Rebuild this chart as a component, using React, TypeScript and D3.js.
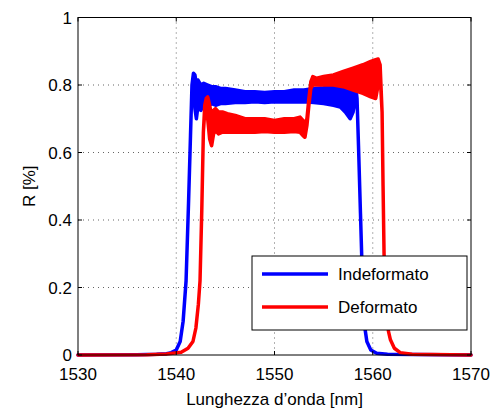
import React from 'react';
import * as d3 from 'd3';

const xTicks = [1530, 1540, 1550, 1560, 1570];
const yTicks = [0, 0.2, 0.4, 0.6, 0.8, 1];
const yTickLabels = ['0', '0.2', '0.4', '0.6', '0.8', '1'];
const seriesNames = ['Indeformato', 'Deformato'];
const seriesColors = ['#0000ff', '#ff0000'];

// Indeformato (blue): wavelength, upper and lower envelope of the oscillating reflectance
const blueLambda = [1530, 1536, 1538, 1539, 1539.5, 1540, 1540.4, 1540.7, 1541, 1541.25, 1541.45, 1541.6, 1541.75, 1541.9, 1542.05, 1542.2, 1542.5, 1542.8, 1543.2, 1543.6, 1544, 1544.5, 1545, 1546, 1547, 1548, 1549, 1550, 1551, 1552, 1553, 1554, 1555, 1556, 1556.7, 1557.2, 1557.7, 1558.0, 1558.25, 1558.4, 1558.55, 1558.75, 1558.9, 1559.0, 1559.15, 1559.4, 1559.8, 1560.4, 1561.5, 1570];
const blueUpper = [0, 0.001, 0.002, 0.004, 0.007, 0.015, 0.04, 0.1, 0.22, 0.45, 0.65, 0.8, 0.835, 0.83, 0.8, 0.815, 0.8, 0.805, 0.8, 0.795, 0.795, 0.79, 0.79, 0.785, 0.78, 0.78, 0.778, 0.78, 0.78, 0.785, 0.785, 0.79, 0.792, 0.8, 0.805, 0.81, 0.82, 0.835, 0.8, 0.76, 0.62, 0.42, 0.27, 0.18, 0.09, 0.04, 0.015, 0.005, 0.002, 0];
const blueLower = [0, 0.001, 0.002, 0.004, 0.007, 0.015, 0.04, 0.1, 0.22, 0.45, 0.65, 0.8, 0.8, 0.73, 0.7, 0.735, 0.725, 0.74, 0.735, 0.745, 0.74, 0.745, 0.745, 0.748, 0.748, 0.75, 0.748, 0.75, 0.75, 0.75, 0.75, 0.748, 0.745, 0.74, 0.735, 0.72, 0.7, 0.72, 0.76, 0.76, 0.62, 0.42, 0.27, 0.18, 0.09, 0.04, 0.015, 0.005, 0.002, 0];

// Deformato (red)
const redLambda = [1530, 1537, 1539, 1540.5, 1541.2, 1541.7, 1542.0, 1542.25, 1542.42, 1542.6, 1542.76, 1542.9, 1543.05, 1543.2, 1543.4, 1543.6, 1543.8, 1544.0, 1544.3, 1544.7, 1545.2, 1546, 1547, 1548, 1549, 1550, 1551, 1552, 1552.6, 1552.9, 1553.1, 1553.3, 1553.5, 1553.7, 1553.9, 1554.3, 1555, 1556, 1557, 1558, 1559, 1559.8, 1560.3, 1560.55, 1560.75, 1560.95, 1561.05, 1561.15, 1561.35, 1561.6, 1561.8, 1562.2, 1562.8, 1564, 1570];
const redUpper = [0, 0.001, 0.003, 0.008, 0.02, 0.04, 0.08, 0.15, 0.22, 0.43, 0.66, 0.74, 0.76, 0.765, 0.74, 0.71, 0.725, 0.73, 0.72, 0.72, 0.715, 0.71, 0.7, 0.7, 0.7, 0.695, 0.7, 0.7, 0.705, 0.695, 0.685, 0.7, 0.76, 0.81, 0.825, 0.82, 0.825, 0.83, 0.84, 0.85, 0.86, 0.87, 0.875, 0.877, 0.86, 0.72, 0.5, 0.3, 0.15, 0.07, 0.045, 0.02, 0.007, 0.002, 0];
const redLower = [0, 0.001, 0.003, 0.008, 0.02, 0.04, 0.08, 0.15, 0.22, 0.43, 0.66, 0.72, 0.72, 0.7, 0.64, 0.62, 0.655, 0.665, 0.655, 0.66, 0.66, 0.66, 0.66, 0.66, 0.662, 0.66, 0.66, 0.662, 0.66, 0.65, 0.645, 0.68, 0.74, 0.79, 0.8, 0.8, 0.8, 0.8, 0.795, 0.785, 0.775, 0.765, 0.76, 0.8, 0.83, 0.72, 0.5, 0.3, 0.15, 0.07, 0.045, 0.02, 0.007, 0.002, 0];

const W = 497;
const H = 414;
const M = { left: 78, right: 471, top: 17.5, bottom: 355 };
const FONT = "'Liberation Sans', Arial, Helvetica, sans-serif";
const FS = 17;

export default function App() {
  const x = d3.scaleLinear().domain([1530, 1570]).range([M.left, M.right]);
  const y = d3.scaleLinear().domain([0, 1]).range([M.bottom, M.top]);

  const makeBand = (lam: number[], up: number[], lo: number[]) => {
    const pts = lam.map((l, i) => ({ l, u: up[i], d: lo[i] }));
    return d3
      .area<{ l: number; u: number; d: number }>()
      .x((p) => x(p.l))
      .y0((p) => y(p.d))
      .y1((p) => y(p.u))(pts) as string;
  };

  const bands = [
    makeBand(blueLambda, blueUpper, blueLower),
    makeBand(redLambda, redUpper, redLower),
  ];

  const tickLen = 4;
  const lg = { x: 252, y: 256, w: 215, h: 74 };

  return (
    <svg
      width={W}
      height={H}
      style={{ position: 'absolute', left: 0, top: 0, background: '#fff' }}
      fontFamily={FONT}
    >
      <rect x={0} y={0} width={W} height={H} fill="#fff" />
      {/* grid */}
      <g stroke="#000" strokeWidth={1} strokeDasharray="1,4" opacity={0.6}>
        {xTicks.slice(1, -1).map((t) => (
          <line key={'gx' + t} x1={x(t)} x2={x(t)} y1={M.top} y2={M.bottom} />
        ))}
        {yTicks.slice(1, -1).map((t) => (
          <line key={'gy' + t} x1={M.left} x2={M.right} y1={y(t)} y2={y(t)} />
        ))}
      </g>
      {/* data */}
      {bands.map((d, i) => (
        <path
          key={i}
          d={d}
          fill={seriesColors[i]}
          stroke={seriesColors[i]}
          strokeWidth={3.5}
          strokeLinejoin="round"
        />
      ))}
      {/* axes box */}
      <rect x={M.left} y={M.top} width={M.right - M.left} height={M.bottom - M.top} fill="none" stroke="#000" strokeWidth={1} />
      {xTicks.map((t) => (
        <g key={'xt' + t}>
          <line x1={x(t)} x2={x(t)} y1={M.bottom} y2={M.bottom - tickLen} stroke="#000" />
          <line x1={x(t)} x2={x(t)} y1={M.top} y2={M.top + tickLen} stroke="#000" />
          <text x={x(t)} y={380} textAnchor="middle" fontSize={FS} fill="#000">
            {t}
          </text>
        </g>
      ))}
      {yTicks.map((t, i) => (
        <g key={'yt' + t}>
          <line x1={M.left} x2={M.left + tickLen} y1={y(t)} y2={y(t)} stroke="#000" />
          <line x1={M.right} x2={M.right - tickLen} y1={y(t)} y2={y(t)} stroke="#000" />
          <text x={72} y={y(t) + 6} textAnchor="end" fontSize={FS} fill="#000">
            {yTickLabels[i]}
          </text>
        </g>
      ))}
      <text x={(M.left + M.right) / 2} y={405} textAnchor="middle" fontSize={FS} fill="#000">
        Lunghezza d’onda [nm]
      </text>
      <text
        transform={`translate(35,${(M.top + M.bottom) / 2}) rotate(-90)`}
        textAnchor="middle"
        fontSize={FS}
        fill="#000"
      >
        R [%]
      </text>
      {/* legend */}
      <rect x={lg.x} y={lg.y} width={lg.w} height={lg.h} fill="#fff" stroke="#000" strokeWidth={1} />
      {seriesNames.map((n, i) => {
        const ly = lg.y + 18 + i * 33;
        return (
          <g key={n}>
            <line x1={lg.x + 10} x2={lg.x + 76} y1={ly} y2={ly} stroke={seriesColors[i]} strokeWidth={3.5} />
            <text x={lg.x + 86} y={ly + 6} fontSize={FS} fill="#000">
              {n}
            </text>
          </g>
        );
      })}
    </svg>
  );
}
